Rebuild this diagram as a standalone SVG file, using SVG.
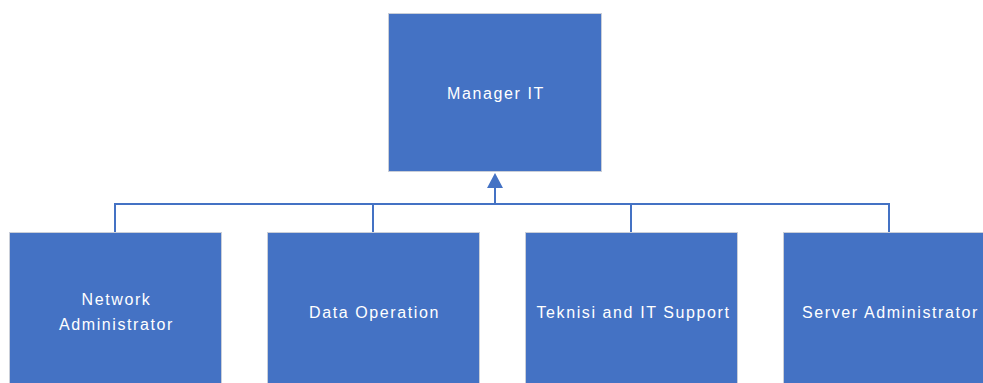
<svg xmlns="http://www.w3.org/2000/svg" width="983" height="383" viewBox="0 0 983 383">
<style>
.box{fill:#4472C4;stroke:#C9CED8;stroke-width:1}
.lbl{font-family:"Liberation Sans",Arial,sans-serif;font-size:16px;fill:#FFFFFF;text-anchor:middle;letter-spacing:1.6px}
.con{fill:none;stroke:#4472C4;stroke-width:2}
</style>
<rect width="983" height="383" fill="#FFFFFF"/>
<g id="connectors">
<path class="con" d="M115,232 V204 H889 V232"/>
<path class="con" d="M373,232 V204"/>
<path class="con" d="M631,232 V204"/>
<path class="con" d="M495,204 V187"/>
<path d="M487,188 L495,173 L503,188 Z" fill="#4472C4"/>
</g>
<g id="manager">
<rect class="box" x="388.5" y="13.5" width="213" height="158"/>
<text class="lbl" x="496" y="99">Manager IT</text>
</g>
<g id="network">
<rect class="box" x="9.5" y="232.5" width="212" height="160"/>
<text class="lbl" x="116.5" y="305">Network</text>
<text class="lbl" x="116.5" y="330">Administrator</text>
</g>
<g id="data">
<rect class="box" x="267.5" y="232.5" width="212" height="160"/>
<text class="lbl" x="374.5" y="318">Data Operation</text>
</g>
<g id="teknisi">
<rect class="box" x="525.5" y="232.5" width="212" height="160"/>
<text class="lbl" x="633.5" y="318">Teknisi and IT Support</text>
</g>
<g id="server">
<rect class="box" x="783.5" y="232.5" width="212" height="160"/>
<text class="lbl" x="890.5" y="318">Server Administrator</text>
</g>
</svg>
